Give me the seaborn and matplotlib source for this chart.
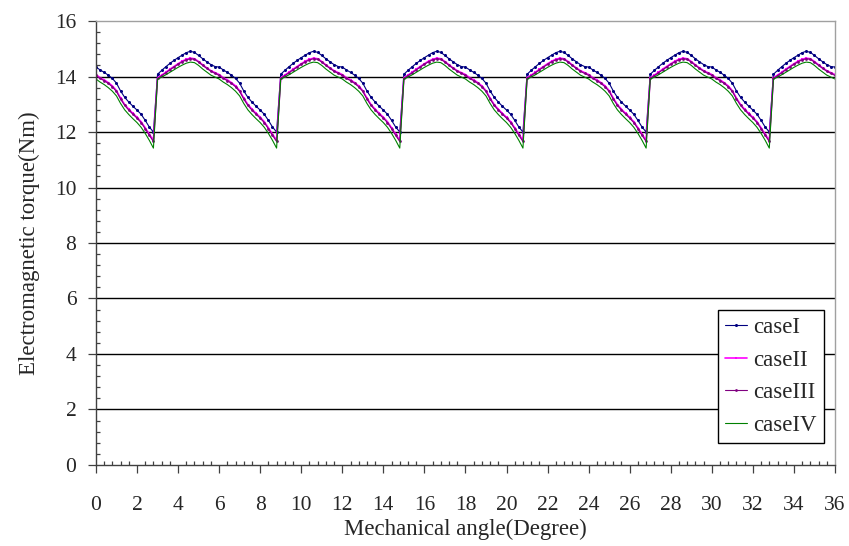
import matplotlib
matplotlib.use('Agg')
import matplotlib.pyplot as plt
from matplotlib.ticker import MultipleLocator
import numpy as np
import pandas as pd
import seaborn as sns

# One 6-degree period of torque (0.2 degree steps)
phase = [0.0, 0.2, 0.4, 0.6, 0.8, 1.0, 1.2, 1.4, 1.6, 1.8,
         2.0, 2.2, 2.4, 2.6, 2.8, 3.0, 3.2, 3.4, 3.6, 3.8,
         4.0, 4.2, 4.4, 4.6, 4.8, 5.0, 5.2, 5.4, 5.6, 5.8]
case1 = [14.34, 14.24, 14.15, 14.05, 13.93, 13.76, 13.48, 13.25, 13.08, 12.93,
         12.79, 12.64, 12.42, 12.18, 12.00, 14.08, 14.22, 14.35, 14.47, 14.58,
         14.68, 14.77, 14.86, 14.91, 14.87, 14.76, 14.64, 14.53, 14.43, 14.36]
case2 = [14.07, 13.96, 13.88, 13.78, 13.66, 13.49, 13.22, 12.99, 12.82, 12.67,
         12.53, 12.37, 12.15, 11.92, 11.70, 13.95, 14.05, 14.15, 14.26, 14.36,
         14.46, 14.55, 14.62, 14.66, 14.64, 14.54, 14.42, 14.31, 14.21, 14.14]
case3 = [14.04, 13.93, 13.85, 13.75, 13.63, 13.46, 13.19, 12.96, 12.79, 12.64,
         12.50, 12.34, 12.12, 11.88, 11.66, 13.93, 14.03, 14.13, 14.24, 14.34,
         14.44, 14.53, 14.60, 14.64, 14.62, 14.52, 14.40, 14.29, 14.19, 14.11]
case4 = [13.91, 13.80, 13.71, 13.60, 13.47, 13.30, 13.03, 12.80, 12.63, 12.48,
         12.34, 12.17, 11.95, 11.70, 11.42, 13.90, 13.98, 14.06, 14.15, 14.24,
         14.33, 14.41, 14.48, 14.52, 14.50, 14.40, 14.27, 14.16, 14.05, 13.98]
n_periods = 6
period = 6.0

labels = ['caseI', 'caseII', 'caseIII', 'caseIV']
colors = ['#000080', '#ff00ff', '#800080', '#008000']

# build the full 0-36 degree series
angle = np.concatenate([np.array(phase) + k * period for k in range(n_periods)] + [[36.0]])
series = {}
for name, vals in zip(labels, [case1, case2, case3, case4]):
    series[name] = np.concatenate([np.tile(vals, n_periods), [vals[0]]])
df = pd.DataFrame(series)
df['angle'] = angle

sns.set_style('white')
plt.rcParams['font.family'] = ['Liberation Serif', 'DejaVu Serif']

fig = plt.figure(figsize=(8.49, 5.46), dpi=100)
ax = fig.add_axes([0.113, 0.1484, 0.8705, 0.8131])

styles = {
    'caseI': dict(lw=0.8, marker='o', markersize=2.2),
    'caseII': dict(lw=1.2, marker='s', markersize=2.0),
    'caseIII': dict(lw=0.8, marker='o', markersize=2.0),
    'caseIV': dict(lw=0.8, marker=None),
}
for name, c in zip(labels, colors):
    sns.lineplot(data=df, x='angle', y=name, ax=ax, color=c, label=name,
                 markeredgewidth=0, **styles[name])

ax.set_xlim(0, 36)
ax.set_ylim(0, 16)
ax.xaxis.set_major_locator(MultipleLocator(2))
ax.xaxis.set_minor_locator(MultipleLocator(0.4))
ax.yaxis.set_major_locator(MultipleLocator(2))
ax.yaxis.set_minor_locator(MultipleLocator(0.4))
ax.tick_params(which='major', direction='out', length=6, width=0.9,
               color='#404040', labelsize=15.5)
ax.tick_params(axis='x', which='major', pad=16)
ax.tick_params(axis='y', which='major', pad=8)
ax.tick_params(which='minor', direction='in', length=3, width=0.9, color='#404040')
ax.tick_params(axis='x', which='both', bottom=True)
ax.tick_params(axis='y', which='both', left=True)

for y in range(2, 16, 2):
    ax.axhline(y, color='black', lw=1, zorder=0)

ax.spines['left'].set_color('#404040')
ax.spines['bottom'].set_color('#404040')
ax.spines['top'].set_color('#a0a0a0')
ax.spines['right'].set_color('#a0a0a0')
for s in ax.spines.values():
    s.set_linewidth(1)

ax.set_xlabel('Mechanical angle(Degree)', fontsize=16.5, labelpad=3)
ax.set_ylabel('Electromagnetic torque(Nm)', fontsize=16.5, labelpad=11)

leg = ax.legend(loc='lower right', bbox_to_anchor=(0.985, 0.05), fontsize=16.5,
                frameon=True, fancybox=False, framealpha=1, edgecolor='black',
                handlelength=0.95, handletextpad=0.3, borderpad=0.3,
                labelspacing=0.5, borderaxespad=0)
leg.get_frame().set_linewidth(1)

fig.savefig('out.png', dpi=100)
